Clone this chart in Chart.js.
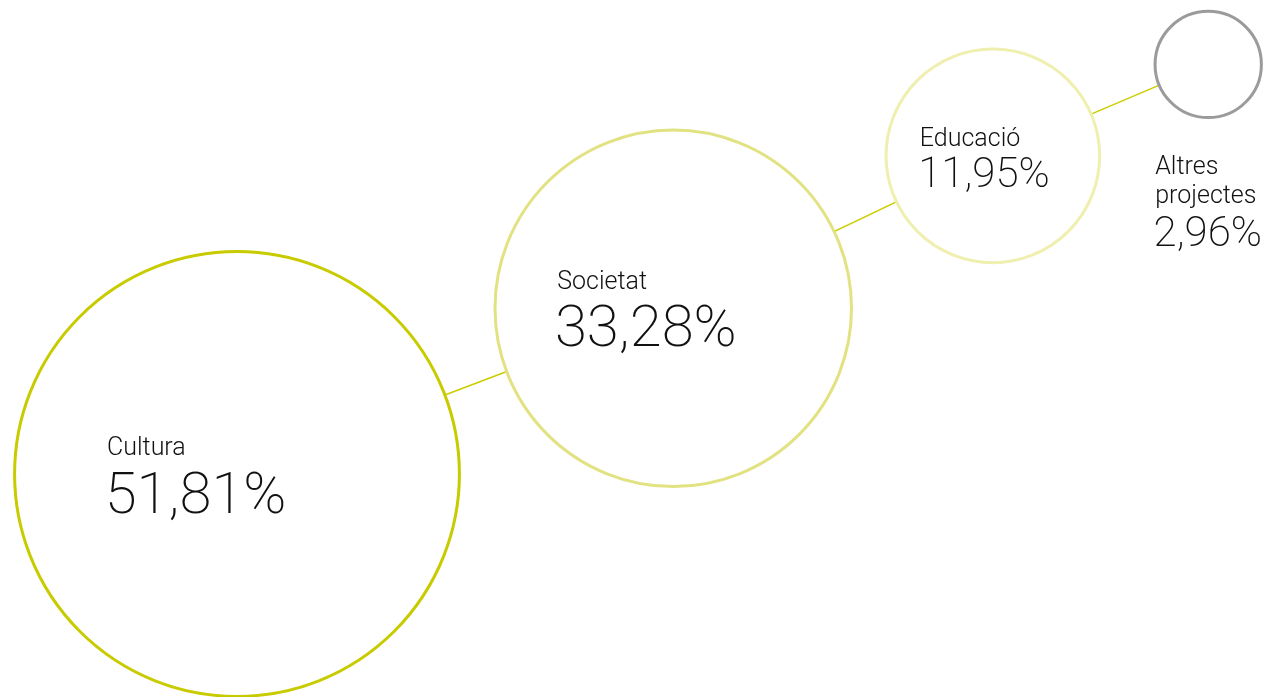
<!DOCTYPE html>
<html>
<head>
<meta charset="utf-8">
<script src="https://cdn.jsdelivr.net/npm/chart.js@4"></script>
<style>
  html, body { margin: 0; padding: 0; background: #fff; }
  #wrap { width: 1272px; height: 697px; position: relative; }
</style>
</head>
<body>
<div id="wrap"><canvas id="myChart"></canvas></div>
<script>
// data
const categories = ['Cultura', 'Societat', 'Educació', 'Altres projectes'];
const shares = [51.81, 33.28, 11.95, 2.96];

// layout (pixels) - circle area follows the share
const radiusPerSqrt = 30.9;
const firstCenter = { x: 237, y: 474 };
const linkAngles = [20.8, 25.5, 23.0];   // degrees, up-right
const linkGaps = [66, 69, 74];
const strokeColors = ['#c8cb00', '#e2e283', '#efefb0', '#9b9b9b'];
const labelLayout = [
    { dx: -130, nameY: -19, pctY: 39, nameSize: 25, pctSize: 58, wrap: 400 },
    { dx: -116, nameY: -19, pctY: 38, nameSize: 25, pctSize: 58, wrap: 400 },
    { dx: -73, nameY: -10, pctY: 31, nameSize: 25, pctSize: 42, wrap: 400 },
    { dx: -53, nameY: 110, pctY: 182, nameSize: 25, pctSize: 42, wrap: 110 }
];
const fontFamily = 'Roboto, "Liberation Sans", sans-serif';

// work out the centres by chaining the circles
const radii = shares.map(v => radiusPerSqrt * Math.sqrt(v));
const centers = [firstCenter];
for (let i = 1; i < shares.length; i++) {
    const prev = centers[i - 1];
    const dist = radii[i - 1] + radii[i] + linkGaps[i - 1];
    const a = linkAngles[i - 1] * Math.PI / 180;
    centers.push({ x: prev.x + dist * Math.cos(a), y: prev.y - dist * Math.sin(a) });
}

function formatShare(v) {
    return v.toFixed(2).replace('.', ',') + '%';
}

function wrapWords(ctx, text, maxWidth) {
    const words = text.split(' ');
    const lines = [];
    let line = '';
    words.forEach(w => {
        const test = line ? line + ' ' + w : w;
        if (line && ctx.measureText(test).width > maxWidth) {
            lines.push(line);
            line = w;
        } else {
            line = test;
        }
    });
    if (line) lines.push(line);
    return lines;
}

// names and percentages next to each circle
const bubbleLabels = {
    id: 'bubbleLabels',
    afterDatasetsDraw(chart) {
        const ctx = chart.ctx;
        const xs = chart.scales.x, ys = chart.scales.y;
        ctx.save();
        ctx.fillStyle = '#111111';
        ctx.textAlign = 'left';
        ctx.textBaseline = 'alphabetic';
        categories.forEach((name, i) => {
            const L = labelLayout[i];
            const px = xs.getPixelForValue(centers[i].x) + L.dx;
            const py = ys.getPixelForValue(centers[i].y);
            ctx.font = '300 ' + L.nameSize + 'px ' + fontFamily;
            const lines = wrapWords(ctx, name, L.wrap);
            lines.forEach((ln, j) => {
                ctx.fillText(ln, px, py + L.nameY + j * 29);
            });
            ctx.font = '200 ' + L.pctSize + 'px ' + fontFamily;
            ctx.fillText(formatShare(shares[i]), px - L.pctSize * 0.04, py + L.pctY);
        });
        ctx.restore();
    }
};

var ctx = document.getElementById('myChart').getContext('2d');
var myChart = new Chart(ctx, {
    type: 'bubble',
    data: {
        datasets: [{
            type: 'bubble',
            order: 1,
            data: shares.map((v, i) => ({ x: centers[i].x, y: centers[i].y, r: radii[i] })),
            backgroundColor: '#ffffff',
            borderColor: strokeColors,
            borderWidth: 3,
            hoverBorderWidth: 3,
            hoverRadius: 0,
            clip: false
        }, {
            type: 'line',
            order: 2,
            data: centers.map(c => ({ x: c.x, y: c.y })),
            borderColor: '#cccc00',
            borderWidth: 1.5,
            pointRadius: 0,
            pointHoverRadius: 0,
            fill: false,
            tension: 0,
            clip: false
        }]
    },
    options: {
        responsive: true,
        maintainAspectRatio: false,
        animation: false,
        events: [],
        layout: { padding: 0, autoPadding: false },
        plugins: {
            legend: { display: false },
            tooltip: { enabled: false },
            title: { display: false }
        },
        scales: {
            x: { type: 'linear', display: false, min: 0, max: 1272 },
            y: { type: 'linear', display: false, min: 0, max: 697, reverse: true }
        }
    },
    plugins: [bubbleLabels]
});
</script>
</body>
</html>
